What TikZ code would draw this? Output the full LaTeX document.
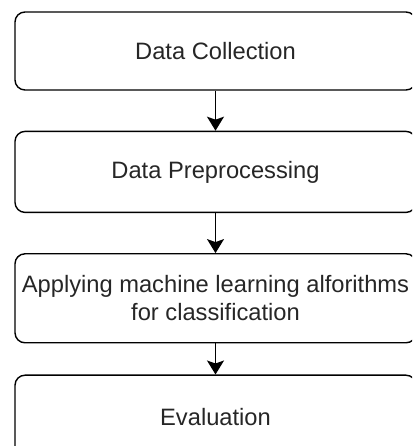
\documentclass[tikz,border=0pt]{standalone}
\usepackage{fontspec}
\setmainfont{Liberation Sans}
\usetikzlibrary{positioning, arrows.meta}

\begin{document}
\begin{tikzpicture}[x=1pt, y=1pt, node distance=40pt,
  stage/.style={draw, rounded corners=10pt, line width=1.4pt, minimum width=401pt, align=center, text=black!85, font=\fontsize{23.7}{28.4}\selectfont, inner sep=0pt},
  flow/.style={-{Stealth[length=14pt, width=17pt, inset=3pt]}, line width=1.4pt}]
\useasboundingbox (0,0) rectangle (412,446);
\clip (0,0) rectangle (412,446);
\node[stage, minimum height=78pt]   (collect) at (215.5,395) {Data Collection};
\node[stage, minimum height=81pt]   (prep)  [below = of collect] {Data Preprocessing};
\node[stage, minimum height=89pt]   (apply) [below = of prep] {Applying machine learning alforithms\\for classification};
\node[stage, minimum height=84pt]   (eval)  [below = 31pt of apply] {Evaluation};
\draw[flow] (collect) -- (prep);
\draw[flow] (prep) -- (apply);
\draw[flow] (apply) -- (eval);
\end{tikzpicture}
\end{document}
